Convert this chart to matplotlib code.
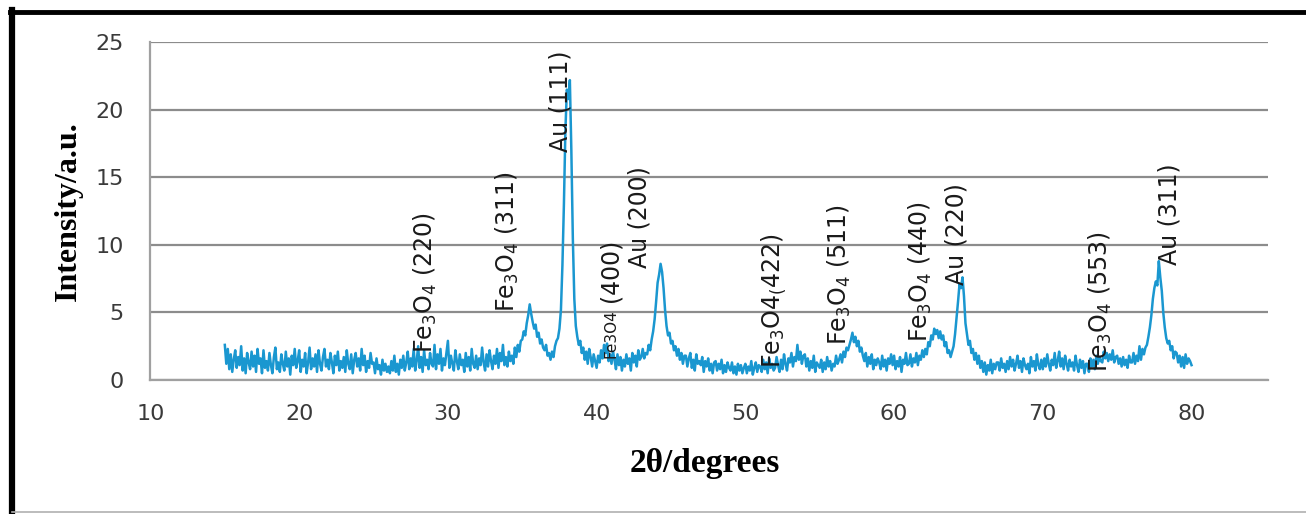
import numpy as np
import matplotlib
matplotlib.use("Agg")
import matplotlib.pyplot as plt
from matplotlib.lines import Line2D

# XRD pattern, every 0.1 degrees from 15 to 80
start, step = 15.0, 0.1
intensity = [
    2.6, 1.2, 2.3, 0.8, 1.9, 0.6, 1.5, 2.2, 0.9, 1.7,   # 15
    1.1, 2.5, 0.7, 1.6, 0.5, 2.0, 1.3, 0.8, 2.1, 1.0,   # 16
    1.8, 0.6, 2.3, 1.2, 1.6, 0.5, 2.2, 0.9, 1.4, 0.7,   # 17
    2.0, 1.1, 0.5, 1.7, 2.4, 0.8, 1.3, 0.6, 1.9, 1.2,   # 18
    0.7, 2.1, 1.0, 1.6, 0.4, 1.8, 1.1, 2.3, 0.9, 1.4,   # 19
    2.2, 0.6, 1.5, 1.0, 2.0, 0.5, 1.3, 2.4, 0.8, 1.6,   # 20
    1.0, 1.9, 0.6, 2.2, 1.2, 0.7, 1.7, 2.3, 1.0, 1.5,   # 21
    0.8, 2.0, 1.3, 0.5, 1.8, 1.1, 2.1, 0.7, 1.4, 0.9,   # 22
    1.7, 0.6, 2.2, 1.2, 0.8, 1.9, 0.5, 1.5, 2.0, 1.0,   # 23
    1.6, 0.7, 2.3, 1.1, 1.8, 0.6, 1.4, 0.9, 2.0, 1.2,   # 24
    1.3, 0.5, 1.6, 0.8, 1.1, 0.4, 1.5, 0.7, 1.2, 0.6,   # 25
    1.0, 0.5, 1.4, 0.7, 1.8, 0.6, 1.2, 0.4, 1.5, 0.9,   # 26
    1.8, 0.7, 1.3, 2.1, 0.8, 1.6, 1.0, 2.3, 0.7, 1.4,   # 27
    2.5, 0.9, 1.7, 0.6, 2.2, 1.1, 1.5, 0.8, 2.0, 1.2,   # 28
    1.0, 2.6, 0.8, 1.9, 1.2, 2.3, 0.7, 1.6, 1.1, 2.0,   # 29
    2.9, 0.9, 1.8, 1.2, 0.7, 2.2, 1.4, 0.8, 1.9, 1.1,   # 30
    1.5, 0.6, 2.0, 1.0, 1.7, 0.7, 2.3, 1.2, 0.9, 1.8,   # 31
    0.8, 1.6, 1.1, 2.4, 1.3, 0.7, 1.9, 1.0, 2.2, 1.4,   # 32
    0.8, 1.8, 1.2, 2.3, 0.9, 2.0, 1.4, 2.6, 1.1, 1.7,   # 33
    1.0, 2.1, 1.4, 1.8, 1.2, 2.4, 1.7, 2.6, 2.1, 2.9,   # 34
    3.0, 3.6, 3.3, 4.2, 4.8, 5.6, 4.9, 4.3, 3.8, 4.1,   # 35
    3.2, 3.5, 2.7, 3.0, 2.4, 2.2, 2.6, 1.8, 2.0, 1.5,   # 36
    2.1, 1.7, 2.5, 2.9, 3.1, 3.8, 5.2, 8.5, 13.0, 18.5,  # 37
    21.5, 20.8, 22.2, 17.0, 10.5, 6.0, 4.0, 3.2, 2.6, 2.9,  # 38
    2.0, 2.4, 1.5, 2.1, 1.2, 2.3, 1.7, 1.0, 1.9, 1.4,   # 39
    0.9, 1.8, 1.3, 2.2, 1.6, 2.6, 2.0, 2.7, 1.4, 1.9,   # 40
    1.2, 2.1, 1.5, 0.8, 1.9, 1.1, 1.7, 0.7, 1.5, 1.0,   # 41
    1.9, 1.2, 1.6, 0.7, 2.0, 1.3, 1.8, 1.0, 2.2, 1.5,   # 42
    1.7, 2.3, 1.6, 2.0, 1.9, 2.6, 2.2, 3.0, 3.6, 4.5,   # 43
    5.8, 7.2, 7.8, 8.6, 8.0, 6.8, 5.2, 4.0, 3.3, 3.5,   # 44
    2.7, 2.9, 2.2, 2.5, 1.8, 2.3, 1.5, 2.0, 1.2, 1.8,   # 45
    1.8, 1.0, 1.6, 2.0, 0.9, 1.5, 0.7, 1.9, 1.2, 1.4,   # 46
    1.1, 1.7, 0.6, 1.4, 1.0, 1.6, 0.7, 1.2, 0.5, 1.3,   # 47
    1.4, 0.7, 1.2, 0.8, 1.5, 0.5, 1.1, 0.6, 1.3, 0.9,   # 48
    0.7, 1.3, 0.5, 1.0, 0.4, 1.2, 0.7, 1.1, 0.5, 0.9,   # 49
    1.2, 0.5, 1.0, 0.7, 1.4, 0.4, 0.9, 1.3, 0.6, 1.1,   # 50
    1.0, 0.6, 1.5, 0.8, 1.3, 0.5, 1.6, 0.9, 1.2, 0.7,   # 51
    0.9, 1.7, 1.1, 0.6, 1.5, 0.8, 1.9, 1.2, 0.7, 1.6,   # 52
    1.3, 2.0, 1.0, 1.7, 1.4, 2.6, 1.5, 2.1, 1.2, 1.8,   # 53
    1.9, 1.0, 1.6, 0.7, 1.4, 0.9, 1.8, 0.6, 1.3, 1.1,   # 54
    0.9, 1.5, 0.6, 1.3, 0.8, 1.7, 1.0, 1.4, 0.7, 1.2,   # 55
    1.0, 1.8, 1.2, 1.5, 1.9, 1.3, 2.1, 1.7, 2.4, 2.2,   # 56
    2.6, 3.0, 3.5, 2.8, 3.2, 2.5, 2.9, 2.1, 2.4, 1.8,   # 57
    1.4, 2.0, 1.0, 1.7, 1.2, 1.9, 0.8, 1.5, 1.1, 1.6,   # 58
    1.3, 0.8, 1.8, 1.0, 1.5, 0.7, 1.6, 1.2, 1.9, 1.1,   # 59
    1.8, 0.8, 1.4, 1.0, 1.7, 0.6, 1.5, 1.2, 2.0, 1.1,   # 60
    1.2, 1.9, 1.0, 1.6, 1.3, 2.0, 1.1, 1.8, 1.5, 2.2,   # 61
    1.7, 2.3, 1.9, 2.8, 2.5, 3.3, 3.0, 3.8, 3.4, 3.7,   # 62
    3.1, 3.6, 3.0, 3.3, 2.5, 2.8, 2.0, 2.2, 1.7, 2.1,   # 63
    2.5, 3.4, 4.6, 5.8, 7.1, 6.8, 7.6, 6.2, 4.2, 3.4,   # 64
    2.6, 2.9, 2.0, 2.3, 1.5, 2.0, 1.2, 1.8, 0.9, 1.4,   # 65
    0.6, 1.3, 0.4, 1.1, 0.7, 1.5, 0.5, 1.2, 0.8, 1.3,   # 66
    1.3, 0.7, 1.6, 0.9, 1.2, 0.6, 1.4, 0.8, 1.7, 1.0,   # 67
    1.5, 0.7, 1.2, 1.8, 0.9, 1.4, 0.6, 1.6, 1.1, 0.8,   # 68
    1.2, 0.5, 1.7, 1.0, 1.4, 0.7, 1.9, 1.1, 0.8, 1.5,   # 69
    0.8, 1.6, 1.0, 1.9, 1.2, 0.7, 1.5, 1.1, 2.0, 0.9,   # 70
    1.4, 2.1, 1.0, 1.6, 0.8, 1.8, 1.2, 0.7, 1.5, 1.0,   # 71
    1.3, 0.7, 1.8, 1.1, 0.6, 1.5, 0.9, 1.4, 0.5, 1.2,   # 72
    1.2, 0.6, 1.6, 1.0, 1.5, 0.8, 1.8, 1.2, 1.7, 1.4,   # 73
    1.3, 2.1, 1.6, 2.0, 1.4, 1.9, 1.5, 2.2, 1.3, 1.7,   # 74
    1.8, 1.2, 1.6, 1.0, 1.7, 1.1, 1.5, 0.9, 1.8, 1.3,   # 75
    1.3, 2.0, 1.2, 1.8, 1.4, 2.5, 1.5, 2.3, 1.9, 2.4,   # 76
    2.6, 3.2, 3.9, 4.8, 6.0, 6.8, 7.3, 7.0, 8.8, 7.6,   # 77
    6.6, 5.0, 3.9, 3.1, 2.7, 2.9, 2.2, 2.5, 1.6, 2.1,   # 78
    2.0, 1.3, 1.8, 1.0, 1.7, 0.9, 1.9, 1.2, 1.6, 1.4,   # 79
    1.1,                                                # 80
]
two_theta = start + step * np.arange(len(intensity))

# peak labels: (text, x, y of the text's lower end)
peak_labels = [
    (r"Fe$_3$O$_4$ (220)", 28.5, 2.0),
    (r"Fe$_3$O$_4$ (311)", 34.0, 5.0),
    (r"Au (111)", 37.6, 16.9),
    (r"Au (200)", 42.9, 8.3),
    (r"Fe$_3$O4$_($422)", 51.9, 0.9),
    (r"Fe$_3$O$_4$ (511)", 56.3, 2.6),
    (r"Fe$_3$O$_4$ (440)", 61.8, 2.8),
    (r"Au (220)", 64.2, 7.0),
    (r"Fe$_3$O$_4$ (553)", 73.9, 0.6),
    (r"Au (311)", 78.5, 8.5),
]

plt.rcParams['mathtext.default'] = 'regular'
plt.rcParams['font.family'] = ['DejaVu Sans']

fig = plt.figure(figsize=(13.06, 5.14), dpi=100)
ax = fig.add_axes([0.1152, 0.2607, 0.971 - 0.1152, 0.9177 - 0.2607])

ax.plot(two_theta, intensity, color='#1a97d0', linewidth=1.8)

ax.set_xlim(10, 85.15)
ax.set_ylim(0, 25)
ax.set_xticks(range(10, 90, 10))
ax.set_yticks(range(0, 30, 5))
ax.yaxis.grid(True, color='#8c8c8c', linewidth=1.6)
ax.set_axisbelow(True)
for s in ['top', 'right']:
    ax.spines[s].set_visible(False)
for s in ['left', 'bottom']:
    ax.spines[s].set_color('#a0a0a0')
    ax.spines[s].set_linewidth(1.6)
ax.tick_params(length=0, labelsize=16, labelcolor='#3a3a3a')
ax.tick_params(axis='y', pad=19)
ax.tick_params(axis='x', pad=17)

for txt, x, y in peak_labels:
    ax.text(x, y, txt, rotation=90, ha='center', va='bottom', fontsize=17, color='#1a1a1a')
# the small one with the tiny formula
ax.text(40.95, 1.6, "Fe3O4", rotation=90, ha='center', va='bottom', fontsize=11, color='#1a1a1a')
ax.text(40.95, 5.8, "(400)", rotation=90, ha='center', va='bottom', fontsize=17, color='#1a1a1a')

fig.text(0.54, 0.099, "2θ/degrees", ha='center', va='center', fontsize=24,
         fontweight='bold', family='Liberation Serif')
fig.text(0.052, 0.589, "Intensity/a.u.", ha='center', va='center', rotation=90, fontsize=23,
         fontweight='bold', family='Liberation Serif')

# frame round the picture
fig.add_artist(Line2D([10 / 1306, 1], [1 - 12 / 514, 1 - 12 / 514], color='black', linewidth=3.5))
fig.add_artist(Line2D([12 / 1306, 12 / 1306], [0, 1 - 10 / 514], color='black', linewidth=4.5))
fig.add_artist(Line2D([12 / 1306, 1], [2 / 514, 2 / 514], color='#b0b0b0', linewidth=1.2))

fig.savefig('out.png', dpi=100)
